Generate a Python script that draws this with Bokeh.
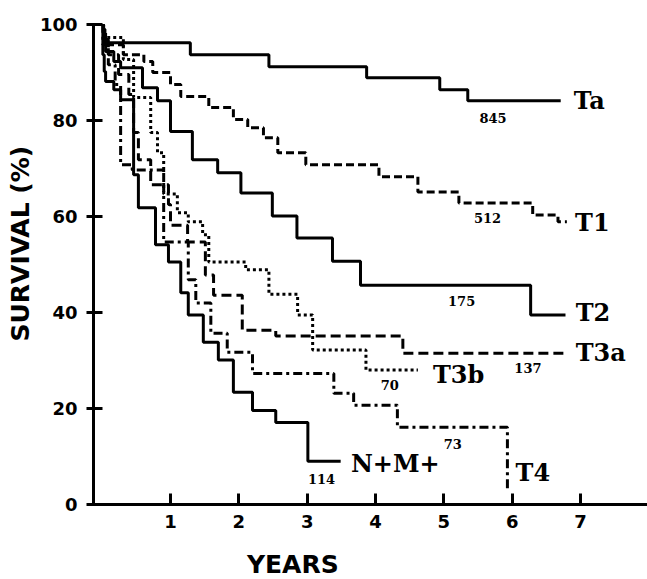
from bokeh.plotting import figure
from bokeh.layouts import column
from bokeh.models import FixedTicker, ColumnDataSource, Title
from bokeh.core.properties import value
from bokeh.embed import file_html
from bokeh.resources import INLINE

# ---- data (years, survival %) ----
ta_t = [0, 0.02, 0.04, 1.29, 2.44, 3.87, 4.94, 5.35, 6.71]
ta_s = [100, 99.0, 96.2, 93.7, 91.2, 88.9, 86.4, 84.1, 84.1]

t1_t = [0, 0.02, 0.05, 0.31, 0.61, 0.74, 1.00, 1.15, 1.56, 1.92, 2.13, 2.36, 2.57, 2.98, 4.05, 4.62, 5.22, 6.30, 6.67, 6.80]
t1_s = [100, 98.5, 95.8, 93.7, 92.3, 90.0, 87.5, 85.0, 82.7, 80.2, 78.5, 76.4, 73.3, 70.8, 68.3, 65.1, 62.8, 60.3, 58.9, 58.9]

t2_t = [0, 0.02, 0.05, 0.17, 0.27, 0.59, 0.81, 1.00, 1.32, 1.69, 2.03, 2.49, 2.85, 3.37, 3.78, 6.27, 6.78]
t2_s = [100, 96.9, 94.4, 92.3, 91.0, 86.8, 84.1, 77.7, 71.8, 69.1, 64.9, 60.1, 55.5, 50.7, 45.7, 39.5, 39.5]

t3a_t = [0, 0.02, 0.09, 0.24, 0.39, 0.46, 0.53, 0.71, 0.97, 1.00, 1.25, 1.51, 1.63, 2.05, 2.54, 4.40, 6.78]
t3a_s = [100, 96.9, 93.7, 89.6, 85.4, 77.5, 71.8, 66.6, 62.5, 58.2, 54.7, 47.8, 43.6, 36.3, 35.1, 31.5, 31.5]

t3b_t = [0, 0.02, 0.31, 0.46, 0.71, 0.81, 0.90, 1.10, 1.26, 1.47, 1.56, 2.10, 2.44, 2.86, 3.08, 3.86, 4.62]
t3b_s = [100, 97.3, 92.7, 84.8, 77.5, 73.3, 64.7, 60.8, 58.9, 56.2, 50.5, 48.9, 43.8, 39.5, 32.2, 28.0, 28.0]

t4_t = [0, 0.01, 0.09, 0.19, 0.27, 0.44, 0.90, 1.26, 1.37, 1.59, 1.83, 2.20, 3.39, 3.68, 4.32, 5.93]
t4_s = [100, 95.8, 91.6, 87.5, 70.8, 69.7, 54.7, 46.8, 42.0, 35.7, 31.7, 27.3, 23.2, 20.7, 16.1, 2.9]

nm_t = [0, 0.01, 0.03, 0.05, 0.17, 0.27, 0.46, 0.53, 0.78, 0.97, 1.15, 1.26, 1.48, 1.70, 1.92, 2.20, 2.54, 3.01, 3.49]
nm_s = [100, 93.7, 90.2, 88.1, 86.4, 84.3, 68.7, 61.8, 54.1, 50.5, 44.1, 39.5, 33.8, 30.1, 23.4, 19.6, 17.1, 9.0, 9.0]

# patient counts
n_text = ["845", "512", "175", "137", "70", "73", "114"]
n_x = [5.72, 5.64, 5.26, 6.23, 4.21, 5.13, 3.21]
n_y = [80.6, 59.6, 42.5, 28.5, 25.0, 12.7, 5.4]

# curve names
c_text = ["Ta", "T1", "T2", "T3a", "T3b", "T4", "N+M+"]
c_x = [6.90, 6.92, 6.93, 6.93, 4.84, 6.05, 3.64]
c_y = [84.2, 58.8, 40.0, 31.7, 27.1, 6.7, 8.5]

x_ticks = [1, 2, 3, 4, 5, 6, 7]
y_ticks = [0, 20, 40, 60, 80, 100]

x_title = "YEARS"
y_title = "SURVIVAL (%)"

p = figure(width=647, height=539, x_range=(-0.127, 7.98), y_range=(0, 100),
           output_backend="svg", toolbar_location=None,
           min_border_left=93, min_border_right=0, min_border_top=24, min_border_bottom=35)
p.outline_line_color = None
p.xgrid.grid_line_color = None
p.ygrid.grid_line_color = None
p.background_fill_color = "white"

for ax in (p.xaxis[0], p.yaxis[0]):
    ax.axis_line_width = 3
    ax.axis_line_color = "black"
    ax.major_tick_line_width = 3
    ax.major_tick_line_color = "black"
    ax.minor_tick_line_color = None
    ax.major_label_text_font = "DejaVu Sans"
    ax.major_label_text_font_style = "bold"
    ax.major_label_text_font_size = "18px"
    ax.major_label_text_color = "black"

p.xaxis.ticker = FixedTicker(ticks=x_ticks)
p.yaxis.ticker = FixedTicker(ticks=y_ticks)
p.xaxis.major_tick_in = 11
p.xaxis.major_tick_out = 0
p.xaxis.major_label_standoff = 10
p.yaxis.major_tick_in = 9
p.yaxis.major_tick_out = 7
p.yaxis.major_label_standoff = 9

lw = 3
p.step(ta_t, ta_s, mode="after", line_width=lw, line_color="black")
p.step(t1_t, t1_s, mode="after", line_width=lw, line_color="black", line_dash="8 4")
p.step(t2_t, t2_s, mode="after", line_width=lw, line_color="black")
p.step(t3a_t, t3a_s, mode="after", line_width=lw, line_color="black", line_dash="10 5")
p.step(t3b_t, t3b_s, mode="after", line_width=lw, line_color="black", line_dash="3 3")
p.step(t4_t, t4_s, mode="after", line_width=lw, line_color="black", line_dash="9 4 3 4")
p.step(nm_t, nm_s, mode="after", line_width=lw, line_color="black")

src_n = ColumnDataSource(dict(x=n_x, y=n_y, t=n_text))
p.text(x="x", y="y", text="t", source=src_n, text_font=value("DejaVu Serif"),
       text_font_style="bold", text_font_size="13px", text_align="center",
       text_baseline="middle", text_color="black")

src_c = ColumnDataSource(dict(x=c_x, y=c_y, t=c_text))
p.text(x="x", y="y", text="t", source=src_c, text_font=value("DejaVu Serif"),
       text_font_style="bold", text_font_size="24px", text_align="left",
       text_baseline="middle", text_color="black")

p.add_layout(Title(text=y_title, align="left", offset=163, standoff=4,
                   vertical_align="bottom", text_font="DejaVu Sans",
                   text_font_style="bold", text_font_size="25px",
                   text_color="black"), "left")

# strip below the plot carrying the x-axis title, sharing the x scale
q = figure(width=647, height=40, x_range=p.x_range, y_range=(0, 1),
           output_backend="svg", toolbar_location=None,
           x_axis_type=None, y_axis_type=None,
           min_border_left=93, min_border_right=0, min_border_top=0, min_border_bottom=0)
q.outline_line_color = None
q.xgrid.grid_line_color = None
q.ygrid.grid_line_color = None
q.text(x=[2.79], y=[0.375], text=[x_title], text_font=value("DejaVu Sans"),
       text_font_style="bold", text_font_size="25px", text_align="center",
       text_baseline="middle", text_color="black")

layout = column(p, q, spacing=0)
open("out.html", "w").write(file_html(layout, INLINE))
